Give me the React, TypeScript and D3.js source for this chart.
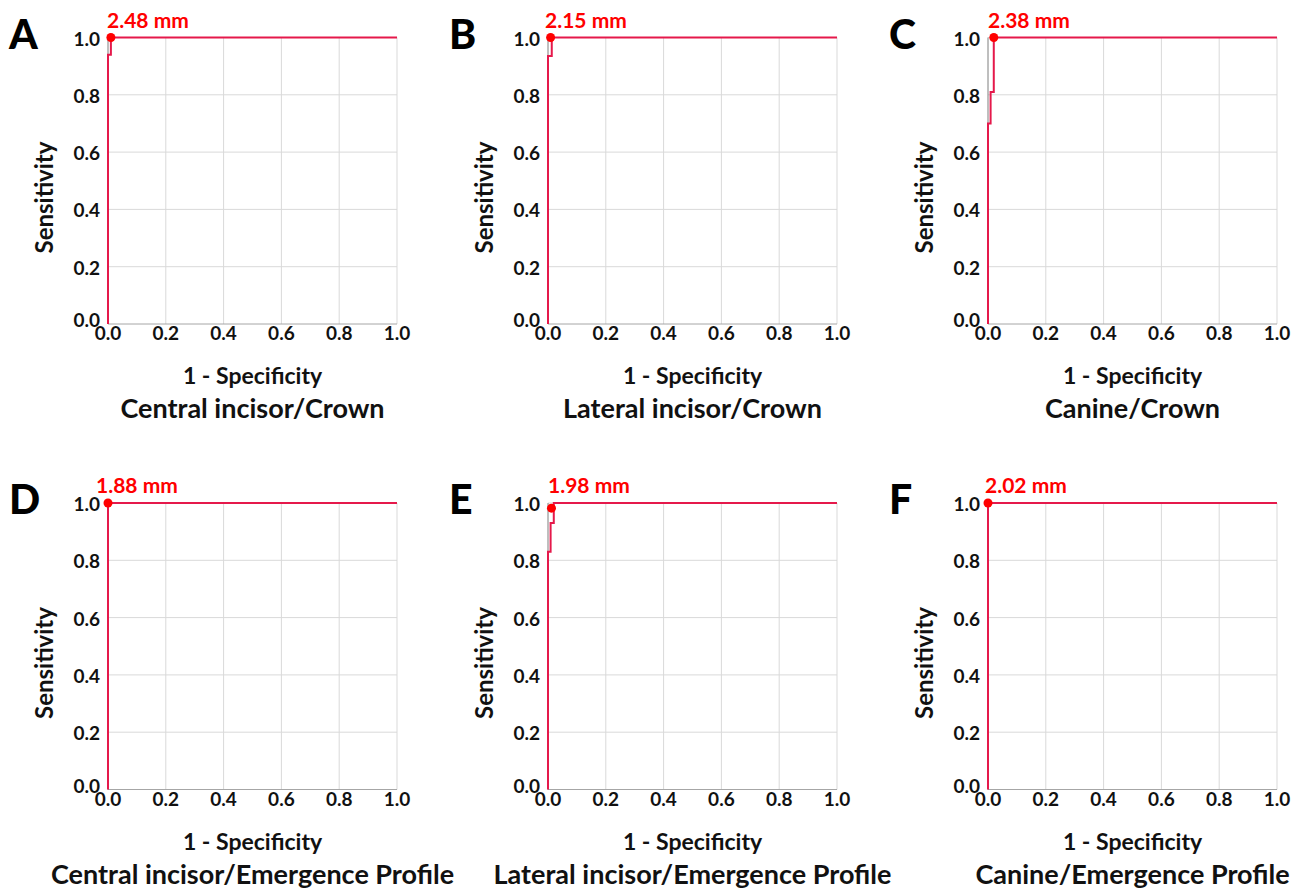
import React, { useEffect, useRef } from 'react';
import * as d3 from 'd3';

// ROC curves (x = 1 - specificity, y = sensitivity)
const panelLetters = ['A', 'B', 'C', 'D', 'E', 'F'];
const panelTitles = [
  'Central incisor/Crown',
  'Lateral incisor/Crown',
  'Canine/Crown',
  'Central incisor/Emergence Profile',
  'Lateral incisor/Emergence Profile',
  'Canine/Emergence Profile',
];
const cutoffLabels = ['2.48 mm', '2.15 mm', '2.38 mm', '1.88 mm', '1.98 mm', '2.02 mm'];

const fprA = [0, 0, 0.01, 0.01, 1];
const tprA = [0, 0.94, 0.94, 1, 1];
const fprB = [0, 0, 0.013, 0.013, 1];
const tprB = [0, 0.935, 0.935, 1, 1];
const fprC = [0, 0, 0.009, 0.009, 0.02, 0.02, 1];
const tprC = [0, 0.70, 0.70, 0.81, 0.81, 1, 1];
const fprD = [0, 0, 1];
const tprD = [0, 1, 1];
const fprE = [0, 0, 0.009, 0.009, 0.02, 0.02, 1];
const tprE = [0, 0.83, 0.83, 0.93, 0.93, 1, 1];
const fprF = [0, 0, 1];
const tprF = [0, 1, 1];

const fprSeries = [fprA, fprB, fprC, fprD, fprE, fprF];
const tprSeries = [tprA, tprB, tprC, tprD, tprE, tprF];

// optimal cut-off points
const cutoffFpr = [0.01, 0.009, 0.02, 0, 0.012, 0];
const cutoffTpr = [1, 1, 1, 1, 0.982, 1];

const tickValues = [0, 0.2, 0.4, 0.6, 0.8, 1.0];

const FONT = 'Lato, "Open Sans", sans-serif';

const App = () => {
  const svgRef = useRef<SVGSVGElement>(null);

  useEffect(() => {
    const svg = d3.select(svgRef.current);
    svg.selectAll('*').remove();

    const plotW = 289;
    const plotH = 286.5;
    const originsX = [108, 548, 988];
    const originsY = [37.5, 503];
    const labelShift = [-1, -3, 0, -12, 0, -3];

    panelLetters.forEach((letter, i) => {
      const x0 = originsX[i % 3];
      const y0 = originsY[Math.floor(i / 3)];
      const g = svg.append('g').attr('transform', `translate(${x0},${y0})`);

      const x = d3.scaleLinear().domain([0, 1]).range([0, plotW]);
      const y = d3.scaleLinear().domain([0, 1]).range([plotH, 0]);

      // gridlines
      g.append('g')
        .selectAll('line')
        .data(tickValues.slice(1))
        .enter().append('line')
        .attr('x1', d => x(d)).attr('x2', d => x(d))
        .attr('y1', 0).attr('y2', plotH)
        .attr('stroke', '#d9d9d9').attr('stroke-width', 1);
      g.append('g')
        .selectAll('line')
        .data(tickValues.slice(1))
        .enter().append('line')
        .attr('x1', 0).attr('x2', plotW)
        .attr('y1', d => y(d)).attr('y2', d => y(d))
        .attr('stroke', '#d9d9d9').attr('stroke-width', 1);

      // axis lines
      g.append('line')
        .attr('x1', 0).attr('x2', plotW).attr('y1', plotH).attr('y2', plotH)
        .attr('stroke', '#a6a6a6').attr('stroke-width', 1);
      g.append('line')
        .attr('x1', 0).attr('x2', 0).attr('y1', 0).attr('y2', plotH)
        .attr('stroke', '#7f7f7f').attr('stroke-width', 1);

      // tick labels
      g.append('g')
        .selectAll('text')
        .data(tickValues)
        .enter().append('text')
        .attr('x', d => x(d))
        .attr('y', plotH + 16)
        .attr('text-anchor', 'middle')
        .attr('font-family', FONT)
        .attr('font-weight', 700)
        .attr('font-size', 19)
        .attr('fill', '#111')
        .text(d => d.toFixed(1));
      g.append('g')
        .selectAll('text')
        .data(tickValues)
        .enter().append('text')
        .attr('x', -8)
        .attr('y', d => y(d) + 8 - (d === 0 ? 5 : 0))
        .attr('text-anchor', 'end')
        .attr('font-family', FONT)
        .attr('font-weight', 700)
        .attr('font-size', 19)
        .attr('fill', '#111')
        .text(d => d.toFixed(1));

      // axis titles
      g.append('text')
        .attr('x', plotW / 2)
        .attr('y', plotH + 60)
        .attr('text-anchor', 'middle')
        .attr('font-family', FONT)
        .attr('font-weight', 700)
        .attr('font-size', 23)
        .attr('fill', '#111')
        .text('1 - Specificity');
      g.append('text')
        .attr('transform', `translate(-55,160) rotate(-90)`)
        .attr('text-anchor', 'middle')
        .attr('font-family', FONT)
        .attr('font-weight', 700)
        .attr('font-size', 24)
        .attr('fill', '#111')
        .text('Sensitivity');
      g.append('text')
        .attr('x', plotW / 2)
        .attr('y', plotH + 94)
        .attr('text-anchor', 'middle')
        .attr('font-family', FONT)
        .attr('font-weight', 700)
        .attr('font-size', 27)
        .attr('fill', '#111')
        .text(panelTitles[i]);

      // panel letter
      g.append('text')
        .attr('x', -99)
        .attr('y', 11)
        .attr('font-family', FONT)
        .attr('font-weight', 900)
        .attr('font-size', 41)
        .attr('fill', '#000')
        .text(letter);

      // ROC curve
      const pts: [number, number][] = fprSeries[i].map((f, k) => [f, tprSeries[i][k]]);
      const line = d3.line<[number, number]>()
        .x(d => x(d[0]))
        .y(d => y(d[1]));
      g.append('path')
        .datum(pts)
        .attr('d', line)
        .attr('fill', 'none')
        .attr('stroke', '#e5194b')
        .attr('stroke-width', 2);

      // cut-off point and label
      g.append('circle')
        .attr('cx', x(cutoffFpr[i]))
        .attr('cy', y(cutoffTpr[i]))
        .attr('r', 4.5)
        .attr('fill', '#ff0000');
      g.append('text')
        .attr('x', labelShift[i])
        .attr('y', -10)
        .attr('font-family', FONT)
        .attr('font-weight', 700)
        .attr('font-size', 21)
        .attr('fill', '#ff0000')
        .text(cutoffLabels[i]);
    });
  }, []);

  return (
    <svg
      ref={svgRef}
      width={1306}
      height={891}
      style={{ position: 'absolute', left: 0, top: 0, background: '#fff' }}
    ></svg>
  );
};

export default App;
